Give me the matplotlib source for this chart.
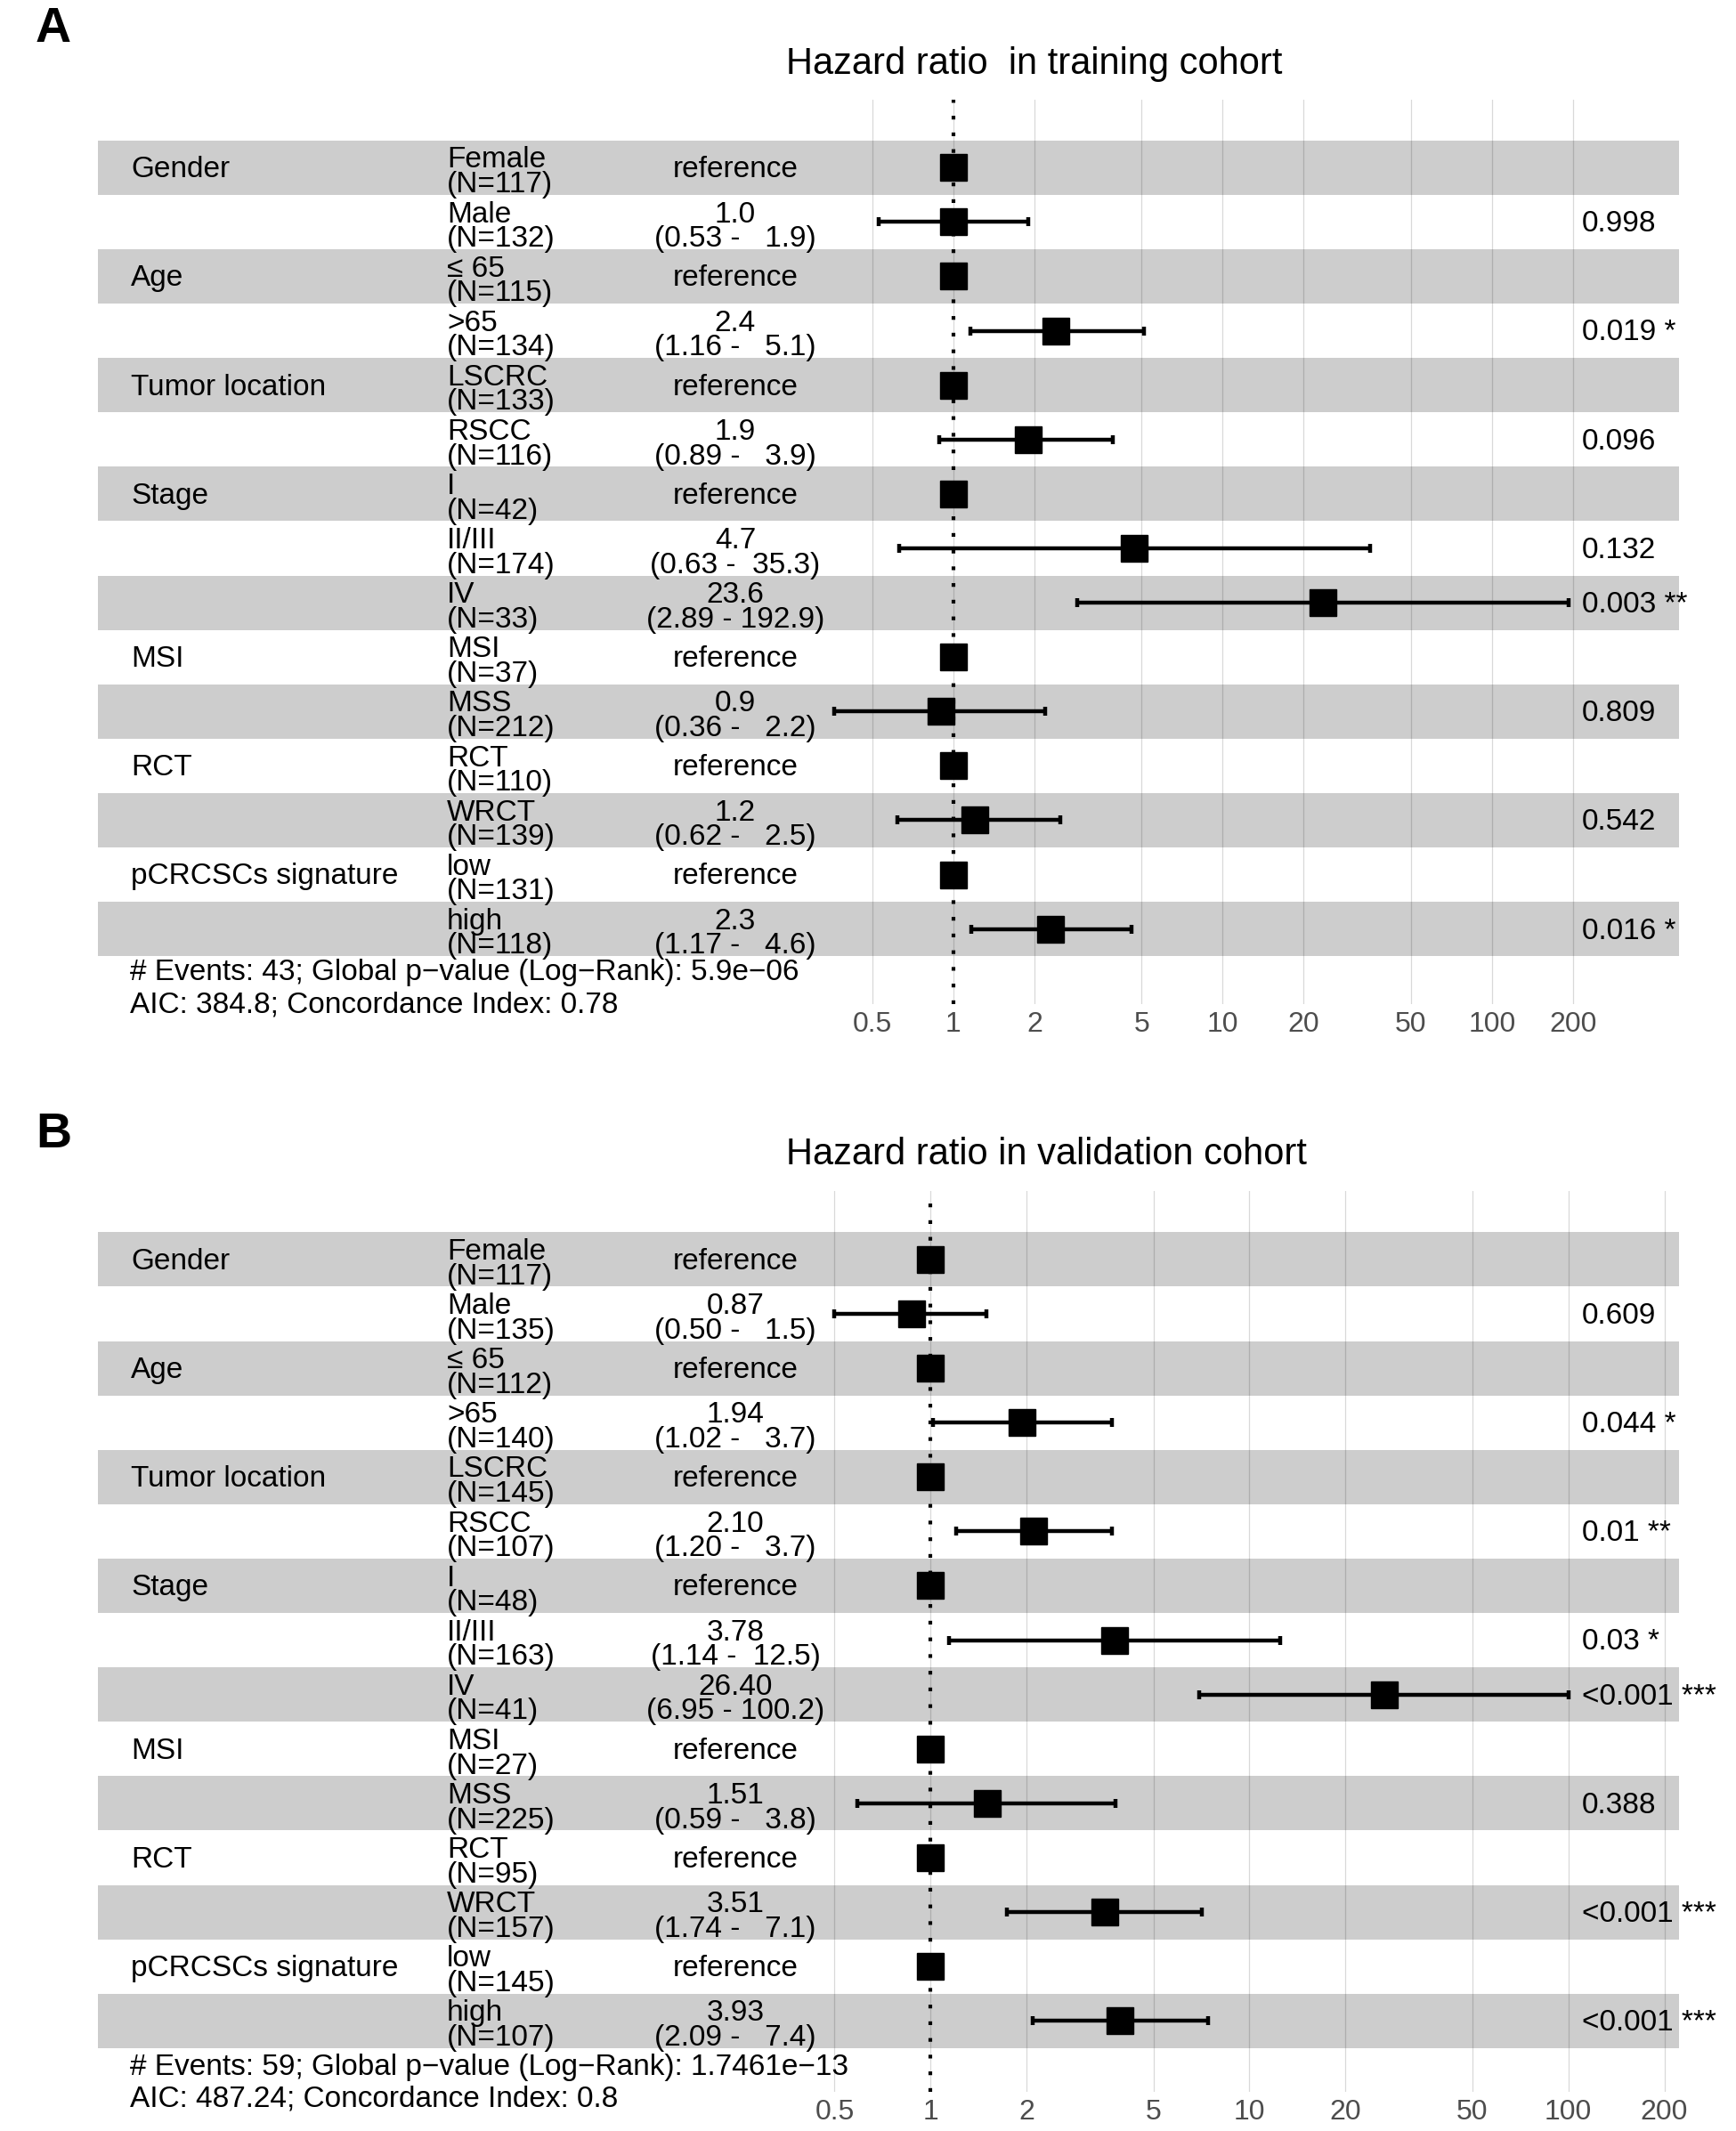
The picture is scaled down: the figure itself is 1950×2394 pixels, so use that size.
import matplotlib
matplotlib.use("Agg")
import matplotlib.pyplot as plt
import matplotlib.transforms as mtransforms

plt.rcParams["font.family"] = ["Liberation Sans", "DejaVu Sans"]

# --- data ---
VARIABLES = ["Gender", "", "Age", "", "Tumor location", "", "Stage", "", "",
             "MSI", "", "RCT", "", "pCRCSCs signature", ""]
LEVELS = ["Female", "Male", "\u2264 65", ">65", "LSCRC", "RSCC", "I", "II/III", "IV",
          "MSI", "MSS", "RCT", "WRCT", "low", "high"]

# training cohort (None = reference level)
N_TRAIN = [117, 132, 115, 134, 133, 116, 42, 174, 33, 37, 212, 110, 139, 131, 118]
HR_TRAIN = [None, 1.0, None, 2.4, None, 1.9, None, 4.7, 23.6, None, 0.9, None, 1.2, None, 2.3]
LO_TRAIN = [None, 0.53, None, 1.16, None, 0.89, None, 0.63, 2.89, None, 0.36, None, 0.62, None, 1.17]
HI_TRAIN = [None, 1.9, None, 5.1, None, 3.9, None, 35.3, 192.9, None, 2.2, None, 2.5, None, 4.6]
P_TRAIN = ["", "0.998", "", "0.019 *", "", "0.096", "", "0.132", "0.003 **", "",
           "0.809", "", "0.542", "", "0.016 *"]

# validation cohort
N_VALID = [117, 135, 112, 140, 145, 107, 48, 163, 41, 27, 225, 95, 157, 145, 107]
HR_VALID = [None, 0.87, None, 1.94, None, 2.10, None, 3.78, 26.40, None, 1.51, None, 3.51, None, 3.93]
LO_VALID = [None, 0.50, None, 1.02, None, 1.20, None, 1.14, 6.95, None, 0.59, None, 1.74, None, 2.09]
HI_VALID = [None, 1.5, None, 3.7, None, 3.7, None, 12.5, 100.2, None, 3.8, None, 7.1, None, 7.4]
P_VALID = ["", "0.609", "", "0.044 *", "", "0.01 **", "", "0.03 *", "<0.001 ***", "",
           "0.388", "", "<0.001 ***", "", "<0.001 ***"]

TICKS = [0.5, 1, 2, 5, 10, 20, 50, 100, 200]
TICK_LABELS = ["0.5", "1", "2", "5", "10", "20", "50", "100", "200"]

# --- layout (pixels of the 1950x2394 output) ---
W, H = 1950, 2394
BAND_COLOR = "#CDCDCD"
ROW_H = 61.1
TXT_DY = 0.04   # single-line text nudge (rows, downwards)
TXT2_DY = 0.09  # two-line text nudge


def fx(px):
    return px / W


def fy(px):
    return 1 - px / H


def draw_panel(fig, letter, title, footnote, n, hr, lo, hi, pvals, hr_fmt,
               top, bottom, band_top, logx, y_off):
    ax = fig.add_axes([fx(110), fy(bottom), fx(1886) - fx(110), (bottom - top) / H])
    ax.set_xscale("log")
    ax.set_xlim(10 ** logx[0], 10 ** logx[1])
    ax.set_ylim(-0.5 + (bottom - band_top) / ROW_H, -0.5 - (band_top - top) / ROW_H)
    for s in ax.spines.values():
        s.set_visible(False)
    ax.set_yticks([])
    ax.set_xticks(TICKS)
    ax.set_xticklabels(TICK_LABELS)
    ax.minorticks_off()
    ax.tick_params(axis="x", length=0, pad=6, labelsize=23, labelcolor="#4D4D4D")

    rows = range(len(LEVELS))
    for i in rows:
        if i % 2 == 0:
            ax.axhspan(i - 0.5, i + 0.5, color=BAND_COLOR, zorder=0, lw=0)
    for t in TICKS:
        ax.axvline(t, color="black", alpha=0.15, lw=0.9, zorder=1)
    ax.axvline(1, color="black", lw=3, ls=(0, (1, 3.5)), zorder=2)

    trans = mtransforms.blended_transform_factory(fig.transFigure, ax.transData)
    fs = 24
    for i in rows:
        ax.text(fx(147), i + TXT_DY, VARIABLES[i], transform=trans, fontsize=fs,
                va="center", ha="left")
        ax.text(fx(502), i + TXT2_DY, f"{LEVELS[i]}\n(N={n[i]})", transform=trans,
                fontsize=fs, va="center", ha="left", linespacing=0.86)
        if hr[i] is None:
            ax.text(fx(826), i + TXT_DY, "reference", transform=trans, fontsize=fs,
                    va="center", ha="center")
            ax.plot(1, i, marker="s", ms=21, color="black", zorder=4)
        else:
            label = f"{hr[i]:{hr_fmt}}\n({lo[i]:.2f} - {hi[i]:5.1f})"
            ax.text(fx(826), i + TXT2_DY, label, transform=trans, fontsize=fs, va="center",
                    ha="center", linespacing=0.86, multialignment="center")
            ax.errorbar(hr[i], i, xerr=[[hr[i] - lo[i]], [hi[i] - hr[i]]], fmt="s", ms=21,
                        color="black", ecolor="black", elinewidth=3.2, capsize=3.5,
                        capthick=3.2, zorder=4)
            ax.text(fx(1777), i + TXT_DY, pvals[i], transform=trans, fontsize=fs,
                    va="center", ha="left")

    fig.text(fx(40), fy(y_off["letter"]), letter, fontsize=40, fontweight="bold", va="center")
    fig.text(fx(883), fy(y_off["title"]), title, fontsize=30, va="center", ha="left")
    fig.text(fx(146), fy(y_off["foot1"]), footnote[0], fontsize=24, va="center")
    fig.text(fx(146), fy(y_off["foot2"]), footnote[1], fontsize=24, va="center")
    return ax


def main():
    fig = plt.figure(figsize=(19.5, 23.94), dpi=100)

    draw_panel(
        fig, "A", "Hazard ratio  in training cohort",
        ["# Events: 43; Global p\u2212value (Log\u2212Rank): 5.9e\u221206",
         "AIC: 384.8; Concordance Index: 0.78"],
        N_TRAIN, HR_TRAIN, LO_TRAIN, HI_TRAIN, P_TRAIN, ".1f",
        top=112, bottom=1128, band_top=157.7, logx=(-3.175, 2.694),
        y_off={"letter": 33, "title": 72, "foot1": 1092, "foot2": 1129},
    )
    draw_panel(
        fig, "B", "Hazard ratio in validation cohort",
        ["# Events: 59; Global p\u2212value (Log\u2212Rank): 1.7461e\u221213",
         "AIC: 487.24; Concordance Index: 0.8"],
        N_VALID, HR_VALID, LO_VALID, HI_VALID, P_VALID, ".2f",
        top=1338, bottom=2350, band_top=1384.3, logx=(-2.611, 2.347),
        y_off={"letter": 1275, "title": 1297, "foot1": 2322, "foot2": 2358},
    )

    fig.savefig("out.png", dpi=100, facecolor="white")
    plt.close(fig)


if __name__ == "__main__":
    main()
